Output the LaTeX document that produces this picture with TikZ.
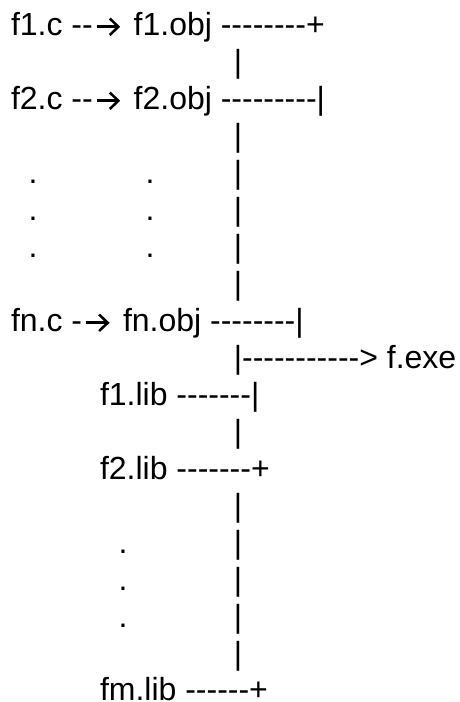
\documentclass[tikz,border=0pt]{standalone}
\usepackage{fontspec}
\setmainfont{Liberation Sans}[Ligatures=TeXOff]
% right arrow with an open chevron head, sized to the current font
\newcommand\rarr{\tikz[baseline=0pt,x=1em,y=1em,line width=0.08em]{%
  \path (0,0) (1.0,0);
  \draw (0.12,0.273) -- (0.78,0.273);
  \draw[miter limit=10] (0.53,0.53) -- (0.80,0.273) -- (0.53,0.016);}}
\begin{document}
\begin{tikzpicture}[x=1pt,y=-1pt,
  art/.style={inner sep=0pt,outer sep=0pt,font=\fontsize{32}{37}\selectfont},
  row/.style={art,anchor=base west},
  glyph/.style={art,anchor=base}]
\useasboundingbox (0,0) rectangle (460,702);
% object files built from the sources
\node[row] (obj1) at (11,35.5)  {f1.c --\rarr\ f1.obj --------+};
\node[glyph] (v2) at (238,72.5) {|};
\node[row] (obj2) at (11,109.5) {f2.c --\rarr\ f2.obj ---------|};
\node[glyph] (v4) at (238,146.5) {|};
\node[glyph] (d5a) at (33,183.5) {.};
\node[glyph] (d5b) at (150,183.5) {.};
\node[glyph] (v5) at (238,183.5) {|};
\node[glyph] (d6a) at (33,220.5) {.};
\node[glyph] (d6b) at (150,220.5) {.};
\node[glyph] (v6) at (238,220.5) {|};
\node[glyph] (d7a) at (33,257.5) {.};
\node[glyph] (d7b) at (150,257.5) {.};
\node[glyph] (v7) at (238,257.5) {|};
\node[glyph] (v8) at (238,294.5) {|};
\node[row] (objn) at (11,331.5) {fn.c -\rarr\ fn.obj --------|};
% linker output
\node[row] (exe) at (233.8,368.5) {|-----------> f.exe};
% libraries
\node[row] (lib1) at (100,405.5) {f1.lib -------|};
\node[glyph] (v12) at (238,442.5) {|};
\node[row] (lib2) at (100,479.5) {f2.lib -------+};
\node[glyph] (v14) at (238,516.5) {|};
\node[glyph] (d15) at (123,553.5) {.};
\node[glyph] (v15) at (238,553.5) {|};
\node[glyph] (d16) at (123,590.5) {.};
\node[glyph] (v16) at (238,590.5) {|};
\node[glyph] (d17) at (123,627.5) {.};
\node[glyph] (v17) at (238,627.5) {|};
\node[glyph] (v18) at (238,664.5) {|};
\node[row] (libm) at (100,700.5) {fm.lib ------+};
\end{tikzpicture}
\end{document}
